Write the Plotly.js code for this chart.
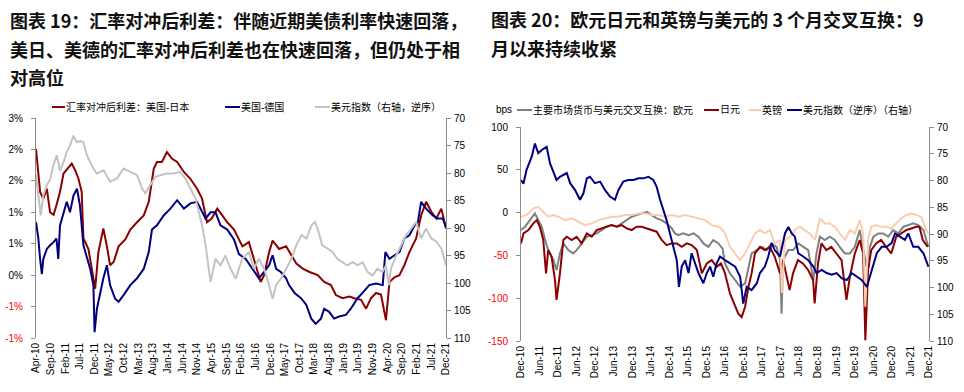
<!DOCTYPE html>
<html>
<head>
<meta charset="utf-8">
<script src="https://cdn.plot.ly/plotly-3.0.1.min.js"></script>
<style>html,body{margin:0;padding:0;background:#fff;}#chart{width:964px;height:392px;}</style>
</head>
<body>
<div id="chart"></div>
<script>
// ---------- Chart 19 (left): month offsets from Apr-10 ----------
const leftTicks = ['Apr-10','Sep-10','Feb-11','Jul-11','Dec-11','May-12','Oct-12','Mar-13','Aug-13','Jan-14','Jun-14','Nov-14','Apr-15','Sep-15','Feb-16','Jul-16','Dec-16','May-17','Oct-17','Mar-18','Aug-18','Jan-19','Jun-19','Nov-19','Apr-20','Sep-20','Feb-21','Jul-21','Dec-21'];
const leftYVals = [-1.2,-0.6,0,0.6,1.2,1.8,2.4,3.0];
const leftYText = ['-1%','-1%','0%','1%','1%','2%','2%','3%'];
const rightDxyTicks = [70,75,80,85,90,95,100,105,110];

const usJpM = [0,1.4,2.5,3.7,4.8,6,7,8.2,9.4,11,12.2,13.4,14.5,15.6,16.2,17.9,19,20.2,21.3,23,24.2,25.3,26.5,28.2,30.5,32.2,34.5,36.8,38.5,40.2,41.3,43,44.7,46.5,48.2,50.5,52.7,55,56.7,58.4,60,61.9,63.6,65.3,67.6,69.3,70.5,72.7,75,76.7,77.9,79.6,80.8,83,85.4,87.2,88.9,91.2,93.4,96.2,98.4,100.7,102.4,104.7,107,108.7,111,112.7,114.4,116.1,117.8,119.5,120.7,122.4,124.1,125.8,127.5,129.8,131.5,133.2,135,136.7,138.4,140];
const usJp  = [2.41,1.59,1.46,1.65,1.2,1.15,1.34,1.59,1.94,2.06,2.13,2.0,1.84,1.59,0.70,0.5,0.12,-0.26,0.44,0.89,0.55,0.19,0.25,0.55,0.68,0.87,1.01,1.14,1.40,2.03,2.16,2.16,2.35,2.22,2.16,1.97,1.84,1.65,1.46,1.01,1.08,1.27,1.14,1.01,0.87,0.68,0.55,0.63,0.19,-0.13,0.0,0.44,0.66,0.5,0.55,0.38,0.22,0.12,0.06,0.0,-0.13,-0.19,-0.38,-0.44,-0.41,-0.44,-0.47,-0.64,-0.44,-0.34,-0.37,-0.86,-0.13,-0.04,0.0,0.19,0.44,0.70,1.14,1.40,1.21,1.08,1.27,0.89];

const usDeM = [0,0.8,1.4,2,2.5,3.7,4.8,6,7,7.6,8.2,9.4,10.5,11.6,12.8,14,15,16.2,17.4,18.5,19.6,20,20.8,22,23,24.2,25.3,27,28.2,29.9,32.2,34.5,36.8,38.5,39.6,41.3,43.6,45.9,48.2,50.5,52.7,55,56.7,57.9,59.6,61.3,63,65.3,67.6,69.3,71.6,73.8,76.1,77.9,79.6,80.8,82,83.6,85.4,86.4,88.3,90.5,92.3,94,95.5,97.3,98.4,100.1,101.8,103.5,105.8,107.5,109.8,111.5,113.8,116.1,118.4,119.3,120.7,122.4,124.1,125.8,127.5,129.3,130.4,131.5,133.2,135.5,137.2,138.9,140];
const usDe  = [1.01,0.70,0.31,0.02,0.31,0.50,0.57,0.63,0.70,0.31,0.95,1.2,1.4,1.2,1.52,1.65,1.33,0.57,0.31,0.12,-0.19,-1.09,-0.64,-0.32,-0.06,0.19,-0.19,-0.45,-0.51,-0.38,-0.19,-0.06,0.12,0.44,0.87,0.95,1.14,1.27,1.43,1.27,1.37,1.40,1.20,1.08,1.20,1.20,0.95,0.87,0.68,0.40,0.31,0.12,-0.06,0.06,0.19,0.38,0.12,0.06,-0.06,-0.19,-0.34,-0.44,-0.57,-0.83,-0.93,-0.83,-0.64,-0.70,-0.83,-0.79,-0.76,-0.64,-0.44,-0.34,-0.19,-0.16,-0.19,0.44,0.31,0.38,0.44,0.70,0.76,0.95,1.01,1.40,1.27,1.14,1.08,1.08,0.92];

const dxyLM = [0,0.8,1.6,2.5,3.7,4.8,5.9,7.1,8.2,9.4,10.5,11.6,12.8,13.9,15.1,16.2,17.4,18.5,19.6,20.8,21.9,23.1,25.3,27.6,29.9,32.2,34.5,36.2,37.3,39,40.8,42.5,44.7,47,49.3,51,52.7,54.5,55.6,56.7,57.9,59,59.6,61.3,63,64.7,66.4,68.2,70.4,72.7,74.4,76.1,77.9,79.6,80.8,82,83.6,85.4,87.2,88.9,90.7,92.4,94.1,95.3,96.5,97.7,99.5,101.2,102.9,104.6,106.3,108.1,109.8,111.5,113.2,114.9,116.6,118.3,119.5,120.5,121.2,123,124.7,126.4,128.1,129.8,131.5,133.2,135,136.7,138.4,140];
const dxyL  = [80.4,84.1,87.7,84.1,82.2,81.2,78.6,76.8,79.6,78,76.2,75,73.2,74.4,74.2,74.4,76.8,78,79.2,80.1,79.8,79.5,81.6,81,79.2,79.8,80.4,82.8,83.7,82.2,80.7,80.4,80.1,80.1,79.8,81,82.8,84.7,87.1,89.5,93.1,97.4,99.8,95.6,96.8,95,97.4,99.2,95.6,94.4,97.4,95.6,97.4,100.4,102.9,100.4,99.2,97.4,95.6,93.1,91.3,91.9,89.5,88.9,90.7,93.1,93.7,94.3,95.6,96.2,96.8,96.2,96.8,96.2,98,98.6,97.4,98,96.8,100.4,97.4,95,93.1,91.3,90.1,88.9,91.9,90.1,91.9,92.5,93.7,96.8];

// ---------- Chart 20 (right): month offsets from Dec-10 ----------
const rightTicks = ['Dec-10','Jun-11','Dec-11','Jun-12','Dec-12','Jun-13','Dec-13','Jun-14','Dec-14','Jun-15','Dec-15','Jun-16','Dec-16','Jun-17','Dec-17','Jun-18','Dec-18','Jun-19','Dec-19','Jun-20','Dec-20','Jun-21','Dec-21'];
const bpsVals = [-150,-100,-50,0,50,100];
const bpsText = ['-150','-100','-50','0','50','100'];

const eurM = [0,1.3,2.9,4.5,5.6,6.7,7.8,8.8,10.5,11.5,12.6,13.7,15.3,16.9,18,19.6,21.3,22.9,24.5,26.1,27.7,29.3,31,32.6,34.2,35.8,37.4,39.1,40.7,42.3,43.9,45.5,47.1,48.8,49.8,50.9,52.5,54.2,55.8,57.4,59,60.6,62.2,63.9,65.2,66,67.6,69.3,70.9,72.5,73.6,74.6,76.3,77.9,79.5,81.1,82.7,83.8,84.3,84.8,86.5,88.1,89.7,91.3,92.9,94.6,95.6,96.7,98.3,99.9,101.5,103.1,104.8,106.4,108,109.6,110.7,111.8,112.9,114,115.6,117.2,118.8,120.4,122.1,123.7,125.3,126.9,128.5,130.2,131.8];
const eur  = [-20.4,-16.5,-8.8,-1,-8.8,-16.5,-32,-43.8,-55.5,-67,-47.7,-36,-43.8,-47.7,-43.8,-36,-28.2,-26.3,-24.3,-20.4,-16.5,-14.6,-16.5,-12.6,-8.8,-4.8,-2.9,-1,1,-2.9,-6.8,-8.8,-12.6,-18.5,-24.3,-26.3,-24.3,-26.3,-24.3,-28.2,-36,-40,-32,-36,-42,-59.4,-71,-78.8,-86.6,-82.7,-63.3,-47.7,-43.8,-40,-43.8,-36,-40,-55.5,-118,-55.5,-43.8,-43.8,-36,-40,-43.8,-78.8,-47.7,-28.2,-32,-28.2,-32,-40,-47.7,-47.7,-40,-20.4,-40,-63.3,-40,-28.2,-24.3,-24.3,-28.2,-20.4,-24.3,-16.5,-14.6,-12.6,-14.6,-20.4,-40];

const jpyM = [0,0.8,2.4,4,5.1,6.1,7.2,8.1,8.8,9.9,11,11.5,12.6,13.7,14.8,16.4,18,19.6,21.3,22.9,24.5,26.1,27.7,29.3,31,32.6,34.2,35.8,37.4,39.1,40.7,42.3,43.9,45.5,47.1,48.8,50.4,52,53.6,55.2,56.9,58.5,60.1,61.7,63.3,64.7,66,67.6,69.3,70.3,71.4,72.5,73.6,74.6,75.7,77.3,78.9,80.5,82.1,83.8,84.8,85.9,86.9,88,89.6,91.2,92.9,94.5,95,96.1,97.2,98.8,100.4,102,103.7,105.3,106.4,108,109.6,110.7,111.4,112.3,113.3,114.9,116.5,118.1,119.8,121.4,123,124.6,126.2,127.9,128.9,130,131.6];
const jpy  = [-36,-24.3,-20.4,-12.6,-8.8,-16.5,-32,-71,-43.8,-51.6,-78.8,-102,-71,-32,-28.2,-32,-28.2,-36,-24.3,-28.2,-20.4,-18.5,-16.5,-14.6,-16.5,-14.6,-18.5,-20.4,-16.5,-16.5,-18.5,-20.4,-22.3,-32,-38,-36,-36,-40,-36,-38,-43.8,-71,-59.4,-55.5,-63.3,-59.4,-71,-94.4,-110,-118,-122,-110,-86.6,-71,-47.7,-40,-43.8,-40,-51.6,-71,-55.5,-75,-90.5,-71,-55.5,-59.4,-67,-78.8,-106,-59.4,-36,-43.8,-40,-47.7,-55.5,-102,-75,-47.7,-32,-47.7,-149,-67,-43.8,-36,-32,-40,-47.7,-28.2,-24.3,-20.4,-18.5,-16.5,-16.5,-32,-40];

const gbpM = [0,1.8,4,5.6,7.2,8.8,10.5,12.1,14.2,16.4,18.6,20.7,22.9,25,27.2,29.3,31.5,33.7,35.8,38,40.1,42.3,44.4,46.6,48.8,50.9,53.1,55.2,57.4,59.5,61.7,63.9,65.2,66,67.6,69.3,70.9,72.5,74.1,75.7,77.3,78.9,80.5,82.1,83.8,84.4,85.4,87,88.6,90.2,91.8,93.4,95.1,96.7,98.3,99.9,101.5,103.1,104.8,106.4,108,109.6,110.7,111.4,112.3,113.3,114.9,116.5,118.1,119.8,121.4,123,124.6,126.2,127.9,129.5,131.1,131.8];
const gbp  = [-4.8,-2.9,4.9,6.8,1,-4.8,-2.9,-4.8,-8.8,-6.8,-10.7,-14.6,-12.6,-8.8,-6.8,-4.8,-4.8,-2.9,-2.9,-1,-1,-2.9,-2.9,-4.8,-2.9,-4.8,-2.9,-4.8,-6.8,-8.8,-14.6,-16.5,-20,-24.3,-40,-47.7,-55.5,-47.7,-36,-24.3,-20.4,-24.3,-20.4,-36,-32,-94,-32,-28.2,-20.4,-16.5,-20.4,-24.3,-32,-6.8,-12.6,-12.6,-16.5,-24.3,-32,-20.4,-24.3,-8.8,-24.3,-110,-32,-16.5,-14.6,-16.5,-16.5,-18.5,-12.6,-6.8,-2.9,-1,-2.9,-4.8,-20.4,-24];

const dxyRM = [0,0.8,1.8,3.5,4.5,5.6,6.7,8.3,9.4,10.5,11.5,12.6,13.7,14.8,15.9,17.5,19.1,20.2,21.3,22.3,23.9,25.6,27.2,28.8,30.4,31.5,33.1,34.7,36.4,38,39.6,41.2,42.8,43.9,45,46.1,47.1,48.2,49.3,50.4,51.1,52,53.1,54.2,55.2,56.3,57.4,59,60.1,61.2,62.2,63.3,64.4,66,67.6,69.3,70.9,71.9,73,74.6,76.3,77.3,78.9,80,81.1,82.1,83.8,85.4,86.5,87.6,88.6,89.7,91.3,92.9,94.6,95.6,97.3,98.9,100.5,102.1,103.8,105.4,107,108.6,110.2,111.9,112.9,114,115.1,116.7,118.3,119.9,121,122.6,124.2,125.3,126.9,128.5,130.2,131.8];
const dxyR  = [79.9,80.6,78.0,75.5,73.1,74.9,74.3,73.7,76.8,78.6,79.9,79.3,79.0,78.6,80.5,81.8,83.6,82.4,79.6,79.3,80.5,80.2,81.8,83.0,83.6,81.8,80.2,79.9,79.9,79.6,79.6,79.3,79.9,81.2,83.6,85.5,87.4,89.9,92.4,94.9,99.9,96.1,94.9,97.3,93.6,95.5,97.3,99.2,97.3,96.1,98,95.5,94.2,94.9,95.5,96.1,98,103,99.9,100.5,99.2,97.3,96.1,94.2,91.7,93,94.2,89.9,88.7,89.9,90.5,93.6,94.2,94.9,96.1,97.3,96.7,97.3,97.6,97.3,98.3,98.6,97.3,98,98.6,99.9,98,95.5,93.6,92.4,92.4,91.7,89.9,90.5,91.1,89.9,92.4,92.4,93.6,96.1];

// ---------- styling ----------
const W = 964, H = 392;
const px = v => v / W, py = v => 1 - v / H;
const TICKFONT = {family: 'Liberation Sans, Arial, Noto Sans CJK SC, sans-serif', size: 10, color: '#000'};
const TXTFONT = {family: 'Liberation Sans, Arial, Noto Sans CJK SC, sans-serif', size: 10, color: '#000'};
const AXC = '#8c8c8c';
const RED = '#8B0000', NAVY = '#00007F', LGRAY = '#C3C3C3', GRAY = '#808080', PEACH = '#F9CDB0';
const neg = t => t.charAt(0) === '-' ? '<span style="color:#FF0000">' + t + '</span>' : t;

const line = (x, y, c, xa, ya, name) => ({x: x, y: y, type: 'scatter', mode: 'lines', name: name,
  line: {color: c, width: 2}, xaxis: xa, yaxis: ya, hoverinfo: 'skip', showlegend: false});

const data = [
  line(usJpM, usJp, RED, 'x', 'y', '汇率对冲后利差：美国-日本'),
  line(usDeM, usDe, NAVY, 'x', 'y', '美国-德国'),
  line(dxyLM, dxyL, LGRAY, 'x', 'y2', '美元指数（右轴，逆序）'),
  line(eurM, eur, GRAY, 'x2', 'y3', '主要市场货币与美元交叉互换：欧元'),
  line(jpyM, jpy, RED, 'x2', 'y3', '日元'),
  line(gbpM, gbp, PEACH, 'x2', 'y3', '英镑'),
  line(dxyRM, dxyR, NAVY, 'x2', 'y4', '美元指数（逆序）（右轴）')
];

const baseX = (domain, rng, ticks, step, anchor) => ({
  domain: domain, range: rng, anchor: anchor, showline: false, zeroline: false, showgrid: false,
  tickmode: 'array', tickvals: ticks.map((_, i) => i * step), ticktext: ticks,
  ticks: '', tickangle: -90, tickfont: TICKFONT, ticklabelstandoff: 2, fixedrange: true
});
const zeroX = (over, rng, ticks, step, pos) => ({
  overlaying: over, anchor: 'free', position: pos, range: rng, showline: true, linecolor: AXC, linewidth: 1,
  zeroline: false, showgrid: false, tickmode: 'array', tickvals: ticks.map((_, i) => i * step),
  showticklabels: false, ticks: 'outside', ticklen: 3, tickcolor: AXC, side: 'bottom'
});
const yAx = (domain, rng, vals, text, side, anchor, over) => {
  const a = {domain: domain, range: rng, anchor: anchor, side: side, showline: true, linecolor: AXC, linewidth: 1,
    mirror: false, zeroline: false, showgrid: false, tickmode: 'array', tickvals: vals, ticktext: text,
    ticks: 'outside', ticklen: 4, tickcolor: AXC, tickfont: TICKFONT, fixedrange: true,
    ticklabelstandoff: side === 'left' ? 6 : 1};
  if (over) { a.overlaying = over; delete a.domain; }
  return a;
};

const LD = [px(36), px(446)], LYD = [py(338), py(118)];
const RD = [px(521), px(929)], RYD = [py(341), py(127)];

const layout = {
  width: W, height: H, margin: {l: 0, r: 0, t: 0, b: 0}, paper_bgcolor: '#fff', plot_bgcolor: 'rgba(0,0,0,0)',
  showlegend: false, font: TXTFONT,
  xaxis: baseX(LD, [0, 140], leftTicks, 5, 'y'),
  xaxis2: baseX(RD, [0, 132], rightTicks, 6, 'y3'),
  xaxis3: zeroX('x', [0, 140], leftTicks, 5, py(275)),
  xaxis4: zeroX('x2', [0, 132], rightTicks, 6, py(212.6)),
  yaxis: yAx(LYD, [-1.2, 3.0], leftYVals, leftYText.map(neg), 'left', 'x'),
  yaxis2: yAx(LYD, [110, 70], rightDxyTicks, rightDxyTicks.map(String), 'right', 'x', 'y'),
  yaxis3: yAx(RYD, [-150, 100], bpsVals, bpsText.map(neg), 'left', 'x2'),
  yaxis4: yAx(RYD, [110, 70], rightDxyTicks, rightDxyTicks.map(String), 'right', 'x2', 'y3'),
  annotations: [], shapes: []
};

const TF = {family: 'Noto Sans CJK SC, sans-serif', size: 18, color: '#111'};
const titleLines = [
  ['图表 19：汇率对冲后利差：伴随近期美债利率快速回落，', 8, 20],
  ['美日、美德的汇率对冲后利差也在快速回落，但仍处于相', 8, 49],
  ['对高位', 8, 77],
  ['图表 20：欧元日元和英镑与美元的 3 个月交叉互换：9', 489, 19],
  ['月以来持续收紧', 489, 48]
];
titleLines.forEach(t => layout.annotations.push({text: '<b>' + t[0] + '</b>', x: px(t[1]), y: py(t[2]),
  xref: 'paper', yref: 'paper', xanchor: 'left', yanchor: 'middle', showarrow: false, font: TF}));

const legendItems = [
  [RED, 52, 65, 107, '汇率对冲后利差：美国-日本'],
  [NAVY, 225, 240, 107, '美国-德国'],
  [LGRAY, 315, 330, 107, '美元指数（右轴，逆序）'],
  [GRAY, 517, 532, 110, '主要市场货币与美元交叉互换：欧元'],
  [RED, 704, 719, 110, '日元'],
  [PEACH, 749, 761, 110, '英镑'],
  [NAVY, 787, 802, 110, '美元指数（逆序）（右轴）']
];
legendItems.forEach(l => {
  layout.shapes.push({type: 'line', xref: 'paper', yref: 'paper', x0: px(l[1]), x1: px(l[2]), y0: py(l[3]), y1: py(l[3]),
    line: {color: l[0], width: 2}});
  layout.annotations.push({text: l[4], x: px(l[2]), y: py(l[3]), xref: 'paper', yref: 'paper', xanchor: 'left',
    yanchor: 'middle', showarrow: false, font: TXTFONT, xshift: -1});
});
layout.annotations.push({text: 'bps', x: px(494), y: py(110), xref: 'paper', yref: 'paper', xanchor: 'left',
  yanchor: 'middle', showarrow: false, font: TXTFONT});

Plotly.newPlot('chart', data, layout, {staticPlot: true, displayModeBar: false});
</script>
</body>
</html>
